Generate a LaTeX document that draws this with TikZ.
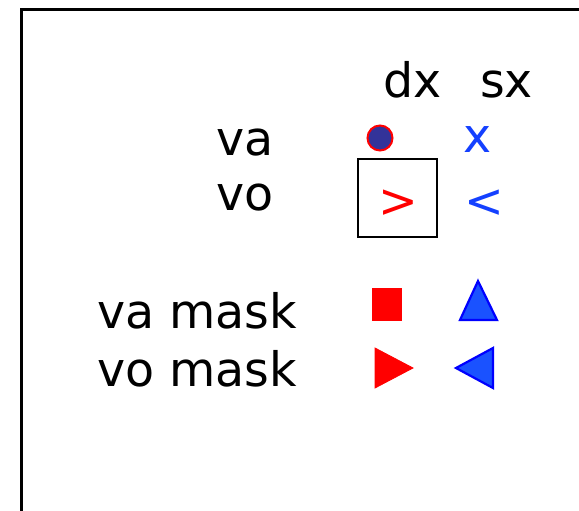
\documentclass[tikz,border=0pt]{standalone}
\usepackage{fontspec}
\setmainfont{DejaVu Sans}
\definecolor{txtblue}{RGB}{20,64,255}
\definecolor{triblue}{RGB}{26,82,255}
\definecolor{edgeblue}{RGB}{0,0,255}
\definecolor{dotblue}{RGB}{51,51,153}
\begin{document}
\begin{tikzpicture}[x=1pt,y=-1pt,
  lbl/.style={inner sep=0pt,outer sep=0pt,font=\fontsize{47.5}{56}\selectfont},
  redshape/.style={fill=red,draw=red,line width=0.8pt,line join=miter},
  blueshape/.style={fill=triblue,draw=edgeblue,line width=2.2pt,line join=miter}]
\useasboundingbox (0,0) rectangle (579,511);
\clip (0,0) rectangle (579,511);
\fill[white] (0,0) rectangle (579,511);
% frame
\draw[line width=2.6pt] (21.5,540) |- (600,9.5);
% headers
\node[lbl,anchor=base west] (dx) at (383,98) {dx};
\node[lbl,anchor=base west] (sx) at (480,98) {sx};
% row labels
\node[lbl,anchor=base west] (va) at (216,155) {va};
\node[lbl,anchor=base west] (vo) at (216,210) {vo};
\node[lbl,anchor=base west] (vam) at (97,328) {va mask};
\node[lbl,anchor=base west] (vom) at (97,386) {vo mask};
% va row
\node[circle,draw=red,fill=dotblue,line width=2pt,minimum size=25pt,inner sep=0pt] (dot) at (380,138) {};
\node[lbl,anchor=base,text=txtblue] (xs) at (478,152) {x};
% vo row
\node[draw=black,line width=2pt,minimum width=79pt,minimum height=78pt,inner sep=0pt] (box) at (397,197.5) {};
\node[lbl,anchor=base,text=red] (gt) at (398,217) {>};
\node[lbl,anchor=base,text=txtblue] (lt) at (484,217) {<};
% masks
\fill[redshape] (372,288) rectangle (401,320);
\filldraw[blueshape] (478,281) -- (497,320) -- (460,320) -- cycle;
\filldraw[redshape] (375,348) -- (413,368) -- (375,388) -- cycle;
\filldraw[blueshape] (493,348) -- (493,388) -- (456,368) -- cycle;
\end{tikzpicture}
\end{document}
